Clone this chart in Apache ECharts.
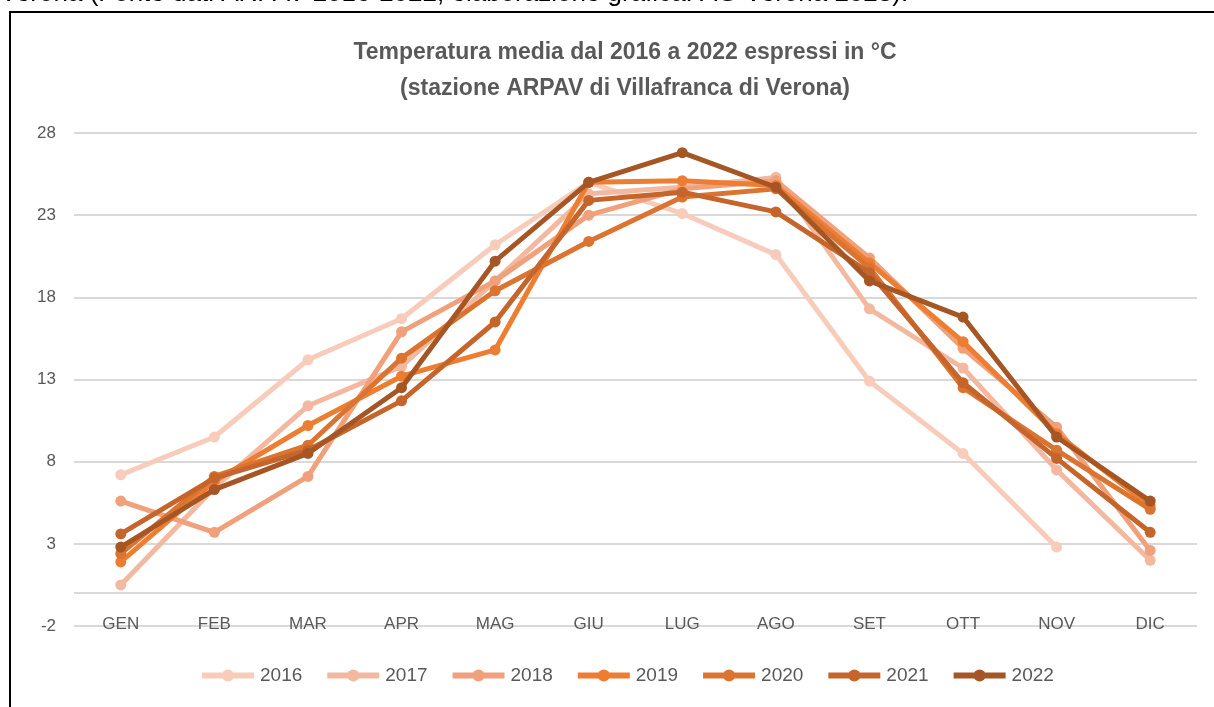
<!DOCTYPE html>
<html>
<head>
<meta charset="utf-8">
<script src="https://cdn.jsdelivr.net/npm/echarts@6/dist/echarts.min.js"></script>
<style>
  html, body { margin: 0; padding: 0; background: #fff; }
  #chart { width: 1214px; height: 707px; }
</style>
</head>
<body>
<div id="chart"></div>
<script>
  // mesi
  const months = ['GEN', 'FEB', 'MAR', 'APR', 'MAG', 'GIU', 'LUG', 'AGO', 'SET', 'OTT', 'NOV', 'DIC']
  const years = ['2016', '2017', '2018', '2019', '2020', '2021', '2022']
  const yTicks = [-2, 3, 8, 13, 18, 23, 28]

  // temperature medie mensili (°C)
  const t2016 = [7.2, 9.5, 14.2, 16.7, 21.2, 25.0, 23.1, 20.6, 12.9, 8.5, 2.8, null]
  const t2017 = [0.5, 6.4, 11.4, 13.8, 19.0, 24.3, 24.7, 25.3, 17.3, 13.7, 7.5, 2.0]
  const t2018 = [5.6, 3.7, 7.1, 15.9, 19.0, 23.0, 24.6, 25.1, 20.4, 14.9, 10.1, 2.6]
  const t2019 = [1.9, 6.8, 10.2, 13.2, 14.8, 25.0, 25.1, 24.8, 20.1, 15.3, 9.7, 5.3]
  const t2020 = [2.4, 7.1, 9.0, 14.3, 18.4, 21.4, 24.1, 24.6, 19.8, 12.5, 8.7, 5.1]
  const t2021 = [3.6, 7.0, 8.7, 11.7, 16.5, 23.9, 24.4, 23.2, 19.5, 12.8, 8.2, 3.7]
  const t2022 = [2.8, 6.3, 8.5, 12.5, 20.2, 25.0, 26.8, 24.7, 19.0, 16.8, 9.5, 5.6]

  const values = [t2016, t2017, t2018, t2019, t2020, t2021, t2022]
  const colors = ['#f7ccba', '#f3b8a0', '#f0a07a', '#ed7d31', '#db7431', '#c5652b', '#a65624']

  const font = "'Liberation Sans', sans-serif"

  const chart = echarts.init(document.getElementById('chart'))

  const series = years.map((name, i) => {
    const s = {
      name: name,
      type: 'line',
      data: values[i],
      symbol: 'circle',
      symbolSize: 11,
      lineStyle: { width: 5, color: colors[i] },
      itemStyle: { color: colors[i] },
      emphasis: { disabled: true },
      z: 3 + i
    }
    if (i === 0) {
      // linea dell'asse orizzontale a quota 0
      s.markLine = {
        silent: true,
        symbol: 'none',
        label: { show: false },
        lineStyle: { color: '#d9d9d9', width: 2, type: 'solid' },
        data: [{ yAxis: 0 }]
      }
    }
    return s
  })

  chart.setOption({
    animation: false,
    color: colors,
    title: {
      text: 'Temperatura media dal 2016 a 2022 espressi in °C\n(stazione ARPAV di Villafranca di Verona)',
      left: 620,
      textAlign: 'center',
      top: 30,
      textStyle: {
        fontFamily: font,
        fontSize: 23,
        fontWeight: 'bold',
        color: '#595959',
        lineHeight: 36
      }
    },
    graphic: [
      {
        type: 'rect',
        shape: { x: 10, y: 12, width: 1230, height: 720 },
        style: { fill: 'none', stroke: '#000', lineWidth: 2 },
        silent: true
      },
      {
        type: 'text',
        left: 0,
        top: -19,
        style: {
          text: 'Verona (Fonte dati ARPAV 2016-2022; elaborazione grafica: AG Verona 2023).',
          font: '26px ' + font,
          fill: '#000'
        },
        silent: true
      }
    ],
    legend: {
      data: years,
      left: 194,
      top: 661,
      itemWidth: 52,
      itemHeight: 15,
      itemGap: 22,
      lineStyle: { width: 6 },
      textStyle: { fontFamily: font, fontSize: 19, color: '#595959', padding: [0, 0, 0, 1] }
    },
    grid: {
      left: 74,
      right: 17,
      top: 133,
      bottom: 81
    },
    xAxis: {
      type: 'category',
      data: months,
      boundaryGap: true,
      axisLine: { show: false },
      axisTick: { show: false },
      axisLabel: {
        margin: -10,
        fontFamily: font,
        fontSize: 17,
        color: '#595959'
      }
    },
    yAxis: {
      type: 'value',
      min: -2,
      max: 28,
      axisLine: { show: false },
      axisTick: { show: false, customValues: yTicks },
      axisLabel: {
        customValues: yTicks,
        margin: 18,
        fontFamily: font,
        fontSize: 17,
        color: '#595959'
      },
      splitLine: { lineStyle: { color: '#d9d9d9', width: 2 } }
    },
    series: series
  })
</script>
</body>
</html>
